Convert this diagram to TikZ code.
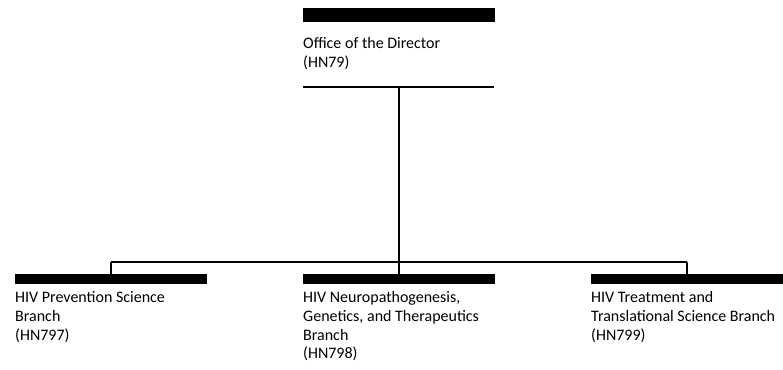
\documentclass[tikz,border=0pt]{standalone}
\usepackage{fontspec}
\setmainfont{Carlito}
\begin{document}
\begin{tikzpicture}[x=1pt,y=-1pt,
  bar/.style={fill=black,draw=none,inner sep=0,minimum width=192pt},
  lbl/.style={anchor=base west,inner sep=0,align=left,font=\fontsize{16}{18.8}\selectfont},
  link/.style={line width=1.3pt}]
\useasboundingbox (0,0) rectangle (783,369);
% top unit
\node[bar,minimum height=14pt] (dirbar) at (398.5,15) {};
\node[lbl] (dirtxt) at (303,67.2) {Office of the Director\\(HN79)};
\coordinate (dirL) at (303,87);
\coordinate (dirR) at (494,87);
\coordinate (dirC) at (399,87);
\draw[link] (dirL) -- (dirR);
% branches
\node[bar,minimum height=10pt] (b1) at (111,279) {};
\node[bar,minimum height=10pt] (b2) at (399,279) {};
\node[bar,minimum height=10pt] (b3) at (687,279) {};
\node[lbl] (t1) at (15,340.1) {HIV Prevention Science\\Branch\\(HN797)};
\node[lbl] (t2) at (303,358.9) {HIV Neuropathogenesis,\\Genetics, and Therapeutics\\Branch\\(HN798)};
\node[lbl] (t3) at (591,340.1) {HIV Treatment and\\Translational Science Branch\\(HN799)};
\coordinate (hub) at (399,262);
\coordinate (hl) at (111,262);
\coordinate (hr) at (687,262);
\draw[link] (dirC) -- (hub);
\draw[link] (hl) -- (hr);
\draw[link] (hl) -- (b1.north);
\draw[link] (hub) -- (b2.north);
\draw[link] (hr) -- (b3.north);
\end{tikzpicture}
\end{document}
